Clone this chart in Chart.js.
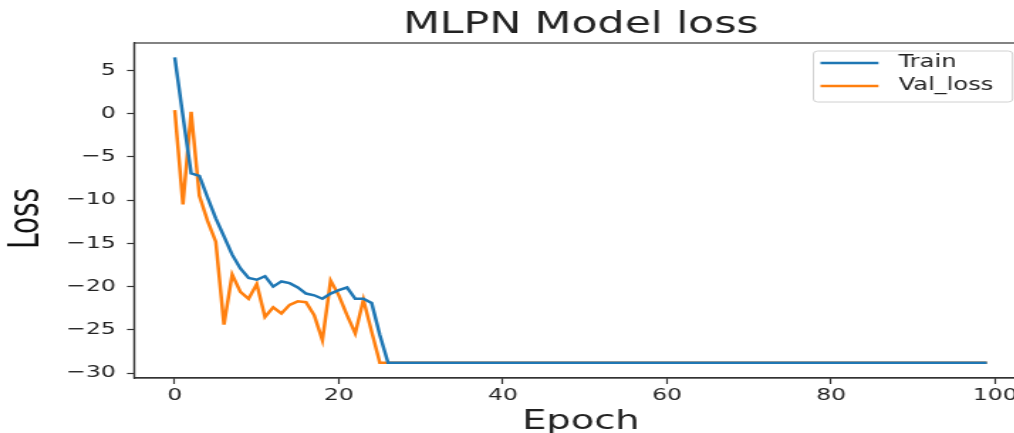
<!DOCTYPE html>
<html>
<head>
<meta charset="utf-8">
<script src="https://cdn.jsdelivr.net/npm/chart.js@4/dist/chart.umd.min.js"></script>
<style>
  html, body { margin: 0; padding: 0; background: #fff; overflow: hidden; }
  #mycanvas { display: block; }
</style>
</head>
<body>
<!-- the reference picture is stretched sideways, so the canvas is too -->
<canvas id="mycanvas" width="732" height="433" style="width:1040px;height:433px"></canvas>
<script>
var epochs = [];
for (var i = 0; i < 100; i++) epochs.push(i);

var train_loss = [
  6.5, -0.3, -6.9, -7.2, -9.7, -12.1, -14.2, -16.3, -17.9, -19.0,
  -19.2, -18.8, -20.0, -19.4, -19.6, -20.1, -20.8, -21.0, -21.4, -20.8,
  -20.4, -20.1, -21.4, -21.4, -21.9, -25.6, -28.8, -28.8, -28.8, -28.8,
  -28.8, -28.8, -28.8, -28.8, -28.8, -28.8, -28.8, -28.8, -28.8, -28.8,
  -28.8, -28.8, -28.8, -28.8, -28.8, -28.8, -28.8, -28.8, -28.8, -28.8,
  -28.8, -28.8, -28.8, -28.8, -28.8, -28.8, -28.8, -28.8, -28.8, -28.8,
  -28.8, -28.8, -28.8, -28.8, -28.8, -28.8, -28.8, -28.8, -28.8, -28.8,
  -28.8, -28.8, -28.8, -28.8, -28.8, -28.8, -28.8, -28.8, -28.8, -28.8,
  -28.8, -28.8, -28.8, -28.8, -28.8, -28.8, -28.8, -28.8, -28.8, -28.8,
  -28.8, -28.8, -28.8, -28.8, -28.8, -28.8, -28.8, -28.8, -28.8, -28.8
];

var val_loss = [
  0.4, -10.5, 0.2, -9.5, -12.4, -14.8, -24.4, -18.6, -20.6, -21.4,
  -19.7, -23.5, -22.4, -23.1, -22.1, -21.7, -21.8, -23.3, -26.2, -19.3,
  -21.0, -23.3, -25.4, -21.5, -25.2, -28.8, -28.8, -28.8, -28.8, -28.8,
  -28.8, -28.8, -28.8, -28.8, -28.8, -28.8, -28.8, -28.8, -28.8, -28.8,
  -28.8, -28.8, -28.8, -28.8, -28.8, -28.8, -28.8, -28.8, -28.8, -28.8,
  -28.8, -28.8, -28.8, -28.8, -28.8, -28.8, -28.8, -28.8, -28.8, -28.8,
  -28.8, -28.8, -28.8, -28.8, -28.8, -28.8, -28.8, -28.8, -28.8, -28.8,
  -28.8, -28.8, -28.8, -28.8, -28.8, -28.8, -28.8, -28.8, -28.8, -28.8,
  -28.8, -28.8, -28.8, -28.8, -28.8, -28.8, -28.8, -28.8, -28.8, -28.8,
  -28.8, -28.8, -28.8, -28.8, -28.8, -28.8, -28.8, -28.8, -28.8, -28.8
];

var x_ticks = [0, 20, 40, 60, 80, 100];
var y_ticks = [5, 0, -5, -10, -15, -20, -25, -30];

var series_names = ["Train", "Val_loss"];
var series_colors = ["#1f77b4", "#ff7f0e"];
var chart_title = "MLPN Model loss";
var y_title = "Loss";

var axisColor = "#333";
var textColor = "#222";

// frame on all four sides, titles, matplotlib style legend
var framePlugin = {
  id: "frame",
  afterDraw: function(chart) {
    var ctx = chart.ctx;
    var a = chart.chartArea;
    ctx.save();
    ctx.strokeStyle = axisColor;
    ctx.lineWidth = 1.2;
    ctx.strokeRect(a.left, a.top, a.right - a.left, a.bottom - a.top);

    ctx.fillStyle = textColor;
    ctx.font = "30px 'DejaVu Sans'";
    ctx.textAlign = "center";
    ctx.textBaseline = "alphabetic";
    ctx.fillText(chart_title, (a.left + a.right) / 2, a.top - 10);

    // y axis label, a bit below the middle like the original
    ctx.save();
    ctx.translate(18.5, (a.top + a.bottom) / 2 + 8);
    ctx.rotate(-Math.PI / 2);
    ctx.font = "condensed 31px 'DejaVu Sans Condensed', 'DejaVu Sans'";
    ctx.textBaseline = "middle";
    ctx.fillStyle = "#111";
    ctx.fillText(y_title, 0, 0);
    ctx.restore();

    var x1 = a.right - 150.7, x2 = a.right - 10.5;
    var y1 = a.top + 8, y2 = a.top + 59;
    ctx.beginPath();
    ctx.roundRect(x1, y1, x2 - x1, y2 - y1, 3);
    ctx.fillStyle = "rgba(255,255,255,0.85)";
    ctx.fill();
    ctx.strokeStyle = "#d0d0d0";
    ctx.lineWidth = 1;
    ctx.stroke();

    ctx.font = "17px 'DejaVu Sans'";
    ctx.textBaseline = "middle";
    ctx.textAlign = "left";
    chart.data.datasets.forEach(function(ds, k) {
      var y = a.top + 20 + k * 23;
      ctx.beginPath();
      ctx.moveTo(x1 + 5, y);
      ctx.lineTo(x1 + 45.8, y);
      ctx.strokeStyle = ds.borderColor;
      ctx.lineWidth = 2.5;
      ctx.stroke();
      ctx.fillStyle = textColor;
      ctx.fillText(ds.label, x1 + 59.9, y);
    });
    ctx.restore();
  }
};

var chartdata = {
  labels: epochs,
  datasets: [
    {
      label: series_names[0],
      data: train_loss,
      borderColor: series_colors[0],
      backgroundColor: series_colors[0],
      borderWidth: 2.5,
      pointRadius: 0,
      fill: false,
      tension: 0
    },
    {
      label: series_names[1],
      data: val_loss,
      borderColor: series_colors[1],
      backgroundColor: series_colors[1],
      borderWidth: 2.5,
      pointRadius: 0,
      fill: false,
      tension: 0
    }
  ]
};

var ctx = document.getElementById("mycanvas");

var LossGraph = new Chart(ctx, {
  type: "line",
  data: chartdata,
  plugins: [framePlugin],
  options: {
    responsive: false,
    animation: false,
    devicePixelRatio: 1,
    layout: { padding: { left: 0, right: 8.8, top: 43, bottom: 0 } },
    plugins: {
      legend: { display: false },
      tooltip: { enabled: false },
      title: { display: false }
    },
    scales: {
      x: {
        type: "linear",
        min: -4.95,
        max: 103.95,
        afterBuildTicks: function(scale) {
          scale.ticks = x_ticks.map(function(v) { return { value: v }; });
        },
        afterFit: function(scale) { scale.height = 55; },
        grid: { drawOnChartArea: false, color: axisColor, tickLength: 6, tickWidth: 1.2 },
        border: { color: axisColor, width: 1.2 },
        ticks: {
          color: textColor,
          padding: 2,
          maxRotation: 0,
          font: { family: "'DejaVu Sans'", size: 16.5 }
        },
        title: {
          display: true,
          text: "Epoch",
          color: textColor,
          font: { family: "'DejaVu Sans'", size: 27, lineHeight: 0.85 },
          padding: { top: 0, bottom: 0 }
        }
      },
      y: {
        min: -30.56,
        max: 8.16,
        afterBuildTicks: function(scale) {
          scale.ticks = y_ticks.map(function(v) { return { value: v }; });
        },
        afterFit: function(scale) { scale.width = 94.4; },
        grid: { drawOnChartArea: false, color: axisColor, tickLength: 5, tickWidth: 1.2 },
        border: { color: axisColor, width: 1.2 },
        ticks: {
          color: textColor,
          padding: 8,
          font: { family: "'DejaVu Sans'", size: 16.5 },
          callback: function(v) { return String(v).replace("-", "\u2212"); }
        },
        title: { display: false }
      }
    }
  }
});
</script>
</body>
</html>
